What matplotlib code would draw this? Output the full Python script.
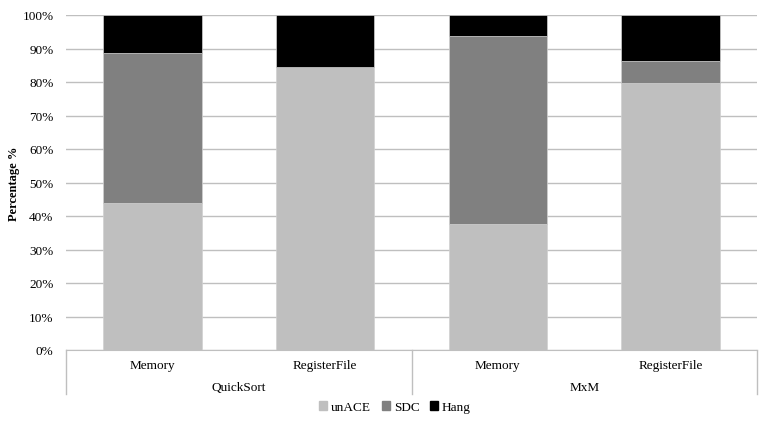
import numpy as np
import matplotlib.pyplot as plt
from matplotlib.patches import Patch

plt.rcParams['font.family'] = ['Liberation Serif', 'DejaVu Serif']

groups = ['QuickSort', 'MxM']
subcats = ['Memory', 'RegisterFile', 'Memory', 'RegisterFile']
unace = [43.9, 84.4, 37.6, 79.8]
sdc = [44.8, 0.0, 56.2, 6.6]
hang = [11.3, 15.6, 6.2, 13.6]
series_names = ['unACE', 'SDC', 'Hang']
colors = ['#BFBFBF', '#808080', '#000000']

fig = plt.figure(figsize=(7.67, 4.27), dpi=100)
ax = fig.add_axes([66/767, (427-351)/427, 691/767, 335/427])

x = np.arange(len(subcats))
w = 0.57
bottom = np.zeros(len(subcats))
for vals, c, name in zip([unace, sdc, hang], colors, series_names):
    ax.bar(x, vals, w, bottom=bottom, color=c, label=name, zorder=3,
           edgecolor='#d0d0d0', linewidth=0.5)
    bottom += np.array(vals)

ax.set_xlim(-0.5, 3.5)
ax.set_ylim(0, 100)
ax.set_yticks(np.arange(0, 101, 10))
ax.set_yticklabels([f'{v}%' for v in range(0, 101, 10)], fontsize=9.5)
ax.yaxis.grid(True, color='#BFBFBF', linewidth=1.0, zorder=0)
ax.tick_params(axis='y', length=0, pad=9)
ax.set_xticks([])
for s in ['top', 'right', 'left']:
    ax.spines[s].set_visible(False)
ax.spines['bottom'].set_color('#BFBFBF')
ax.set_ylabel('Percentage %', fontsize=9, fontweight='bold', labelpad=2)

# multi-level category axis
trans = ax.get_xaxis_transform()
for xs in [-0.5, 1.5, 3.5]:
    ax.plot([xs, xs], [0, -0.13], transform=trans, color='#BFBFBF',
            lw=1.0, clip_on=False)
for i, lab in enumerate(subcats):
    ax.text(i, -0.045, lab, transform=trans, ha='center', va='center', fontsize=9.5)
for j, g in enumerate(groups):
    ax.text(2*j + 0.5, -0.11, g, transform=trans, ha='center', va='center', fontsize=9.5)

handles = [Patch(color=c, label=n) for c, n in zip(colors, series_names)]
fig.legend(handles=handles, loc='center', bbox_to_anchor=(395/767, 1 - 408/427),
           ncol=3, frameon=False, fontsize=9.5, handlelength=0.6, handleheight=0.6,
           handletextpad=0.3, columnspacing=0.8)

plt.savefig('out.png')
